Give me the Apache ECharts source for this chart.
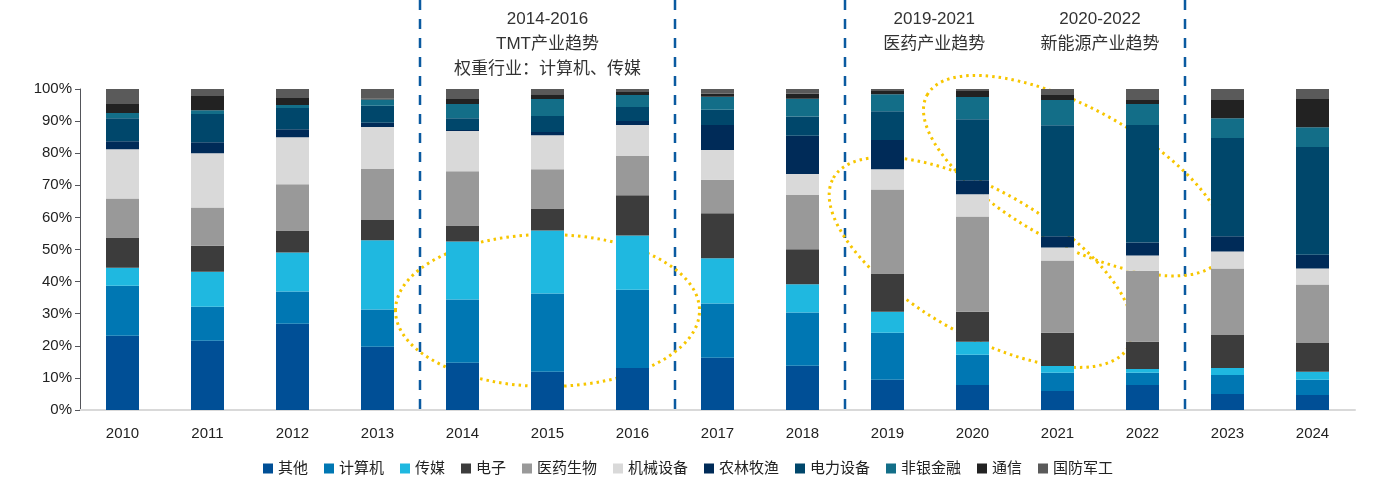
<!DOCTYPE html>
<html><head><meta charset="utf-8">
<script src="https://cdn.jsdelivr.net/npm/echarts@6/dist/echarts.min.js"></script>
<style>html,body{margin:0;padding:0;background:#fff}#c{width:1376px;height:499px}</style>
</head><body><div id="c"></div>
<script>
const years = ['2010','2011','2012','2013','2014','2015','2016','2017','2018','2019','2020','2021','2022','2023','2024'];
const names = ['其他','计算机','传媒','电子','医药生物','机械设备','农林牧渔','电力设备','非银金融','通信','国防军工'];
const colors = ['#004f96','#0077b3','#1fb8e0','#3c3c3c','#999999','#d9d9d9','#002b58','#00476b','#136e88','#222222','#5a5a5a'];

const qita     = [23.1,21.6,26.9,19.7,14.7,11.9,13.1,16.3,13.8,9.4,7.8,5.9,7.8,5.0,4.7];
const jisuanji = [15.6,10.6,10.0,11.6,19.7,24.4,24.4,16.9,16.6,14.7,9.4,5.7,3.8,5.9,4.7];
const chuanmei = [5.6,10.9,12.2,21.6,18.1,19.6,16.9,14.1,8.8,6.5,4.1,2.1,1.2,2.2,2.5];
const dianzi   = [9.4,8.1,6.8,6.3,5.0,6.9,12.5,14.0,10.9,11.9,9.3,10.4,8.5,10.3,9.0];
const yiyao    = [12.2,11.9,14.4,15.9,16.9,12.2,12.2,10.4,16.9,26.2,29.7,22.5,22.1,20.7,18.2];
const jixie    = [15.3,16.9,14.7,13.1,12.5,10.6,9.7,9.3,6.5,6.3,6.9,4.0,4.7,5.3,5.0];
const nonglin  = [2.5,3.4,2.5,1.3,0.3,1.0,1.2,7.8,11.9,9.1,4.4,3.5,4.1,4.7,4.3];
const dianli   = [7.2,8.8,6.6,5.3,3.7,5.0,4.4,4.7,6.0,9.0,19.0,34.6,36.6,30.6,33.5];
const feiyin   = [1.6,1.2,0.9,1.9,4.4,5.3,3.7,4.1,5.6,5.3,6.9,7.9,6.5,6.2,6.2];
const tongxin  = [2.8,4.4,2.2,0.3,1.6,1.5,1.0,0.9,1.5,1.0,1.9,1.5,1.3,5.7,8.8];
const guofang  = [4.7,2.2,2.8,3.1,3.1,1.6,0.9,1.6,1.5,0.6,0.6,1.9,3.4,3.4,3.1];
const seriesData = [qita,jisuanji,chuanmei,dianzi,yiyao,jixie,nonglin,dianli,feiyin,tongxin,guofang];
const yTicks = ['0%','10%','20%','30%','40%','50%','60%','70%','80%','90%','100%'];
// dashed separators sit between these category indexes (value axis 0..15)
const separators = [4, 7, 9, 13];

const chart = echarts.init(document.getElementById('c'));
const font = 'Arial, "Liberation Sans", "Noto Sans CJK SC", sans-serif';

const series = names.map((name, i) => ({
  name, type: 'bar', stack: 'total', barWidth: 33,
  itemStyle: { color: colors[i] },
  data: seriesData[i],
}));

chart.setOption({
  animation: false,
  textStyle: { fontFamily: font },
  grid: { left: 80, right: 21, top: 89, bottom: 89 },
  legend: {
    bottom: 18, left: 'center', icon: 'rect', itemWidth: 10, itemHeight: 10, itemGap: 16,
    textStyle: { fontSize: 15, color: '#222', fontFamily: font },
    data: names,
  },
  xAxis: [
    {
      type: 'category', data: years,
      axisLine: { lineStyle: { color: '#d9d9d9', width: 2 } },
      axisTick: { show: false },
      axisLabel: { fontSize: 15, color: '#222', margin: 16 },
    },
    { type: 'value', min: 0, max: 15, show: false },
  ],
  yAxis: {
    type: 'value', min: 0, max: 100, interval: 10,
    splitLine: { show: false },
    axisLabel: { fontSize: 15, color: '#222', formatter: (v) => yTicks[v / 10] },
  },
  series,
});

// separators and annotations, positioned from the axes
const plotBottom = chart.convertToPixel({ yAxisIndex: 0 }, 0);
const px = (v) => chart.convertToPixel({ xAxisIndex: 1 }, v);
const py = (v) => chart.convertToPixel({ yAxisIndex: 0 }, v);
const graphics = separators.map((v) => ({
  type: 'line', silent: true,
  shape: { x1: px(v), y1: 0, x2: px(v), y2: plotBottom + 2 },
  style: { stroke: '#0a5aa0', lineWidth: 2.5, lineDash: [10, 9] },
}));
const ell = (cxv, cyv, rx, ry, rot) => ({
  type: 'ellipse', silent: true, x: px(cxv), y: py(cyv), rotation: rot,
  shape: { cx: 0, cy: 0, rx, ry },
  style: { fill: 'none', stroke: '#f7c600', lineWidth: 3, lineDash: [2.5, 4] },
});
graphics.push(ell(5.5, 31, 152, 76, 0));
graphics.push(ell(10.6, 46, 170, 72, -0.52));
graphics.push(ell(11.7, 73, 168, 68, -0.5));
const txt = (xv, text) => ({
  type: 'text', silent: true, x: px(xv), y: 7,
  style: { text, align: 'center', verticalAlign: 'top', fontSize: 17, lineHeight: 25, fill: '#333', fontFamily: font },
});
graphics.push(txt(5.5, '2014-2016\nTMT产业趋势\n权重行业：计算机、传媒'));
graphics.push(txt(10.05, '2019-2021\n医药产业趋势'));
graphics.push(txt(12.0, '2020-2022\n新能源产业趋势'));
chart.setOption({ graphic: graphics });
</script></body></html>
